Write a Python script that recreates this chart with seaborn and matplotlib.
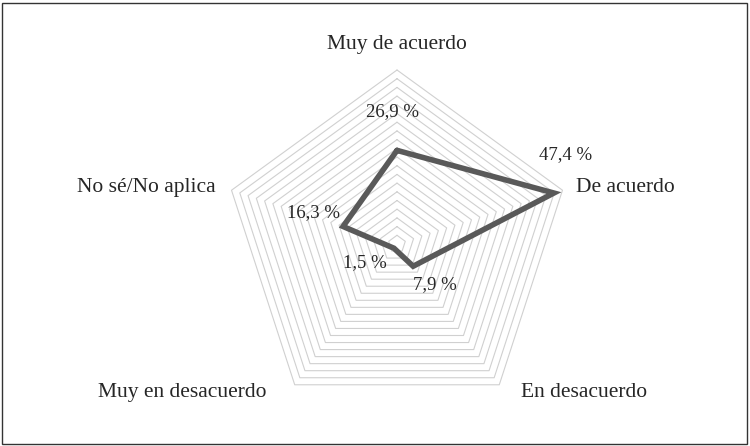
import numpy as np
import seaborn as sns
from matplotlib import pyplot as plt
from matplotlib.patches import Rectangle

sns.set_style("white")
plt.rcParams['font.family'] = ['Liberation Serif', 'DejaVu Serif']

categories = ["Muy de acuerdo", "De acuerdo", "En desacuerdo", "Muy en desacuerdo", "No sé/No aplica"]
values = [26.9, 47.4, 7.9, 1.5, 16.3]
value_labels = ["26,9 %", "47,4 %", "7,9 %", "1,5 %", "16,3 %"]
max_val = 50
ring_step = 2.5

angles = np.pi / 2 - np.arange(5) * 2 * np.pi / 5

fig = plt.figure(figsize=(7.5, 4.46), dpi=100)
ax = fig.add_axes([0, 0, 1, 1])
px = 174 / max_val  # pixels per data unit
ax.set_xlim(-397 / px, 353 / px)
ax.set_ylim(-202 / px, 244 / px)
ax.set_axis_off()

# grid pentagons
ca = np.append(np.cos(angles), np.cos(angles[0]))
sa = np.append(np.sin(angles), np.sin(angles[0]))
for r in np.arange(ring_step, max_val + 0.01, ring_step):
    ax.plot(r * ca, r * sa, color="#d0d0d0", lw=0.8, zorder=1)

# data line
v = np.append(values, values[0])
ax.plot(v * ca, v * sa, color="#595959", lw=4, zorder=3, solid_joinstyle="miter")

# category labels (pixel offsets from vertex)
offs = [(0, 26, "center"), (14, 3, "left"), (85, -8, "center"), (-112, -8, "center"), (-16, 3, "right")]
for a, c, (dx, dy, ha) in zip(angles, categories, offs):
    x = max_val * np.cos(a) + dx / px
    y = max_val * np.sin(a) + dy / px
    ax.text(x, y, c, ha=ha, va="center", fontsize=15.5)

voffs = [(-4, 39), (12, 38), (22, -18), (-29, -14), (-30, 14)]
for a, val, lab, (dx, dy) in zip(angles, values, value_labels, voffs):
    x = val * np.cos(a) + dx / px
    y = val * np.sin(a) + dy / px
    ax.text(x, y, lab, ha="center", va="center", fontsize=13.5)

fig.patches.append(Rectangle((0.003, 0.004), 0.993, 0.99, transform=fig.transFigure,
                             fill=False, ec="#333333", lw=1))
fig.savefig("out.png", dpi=100)
